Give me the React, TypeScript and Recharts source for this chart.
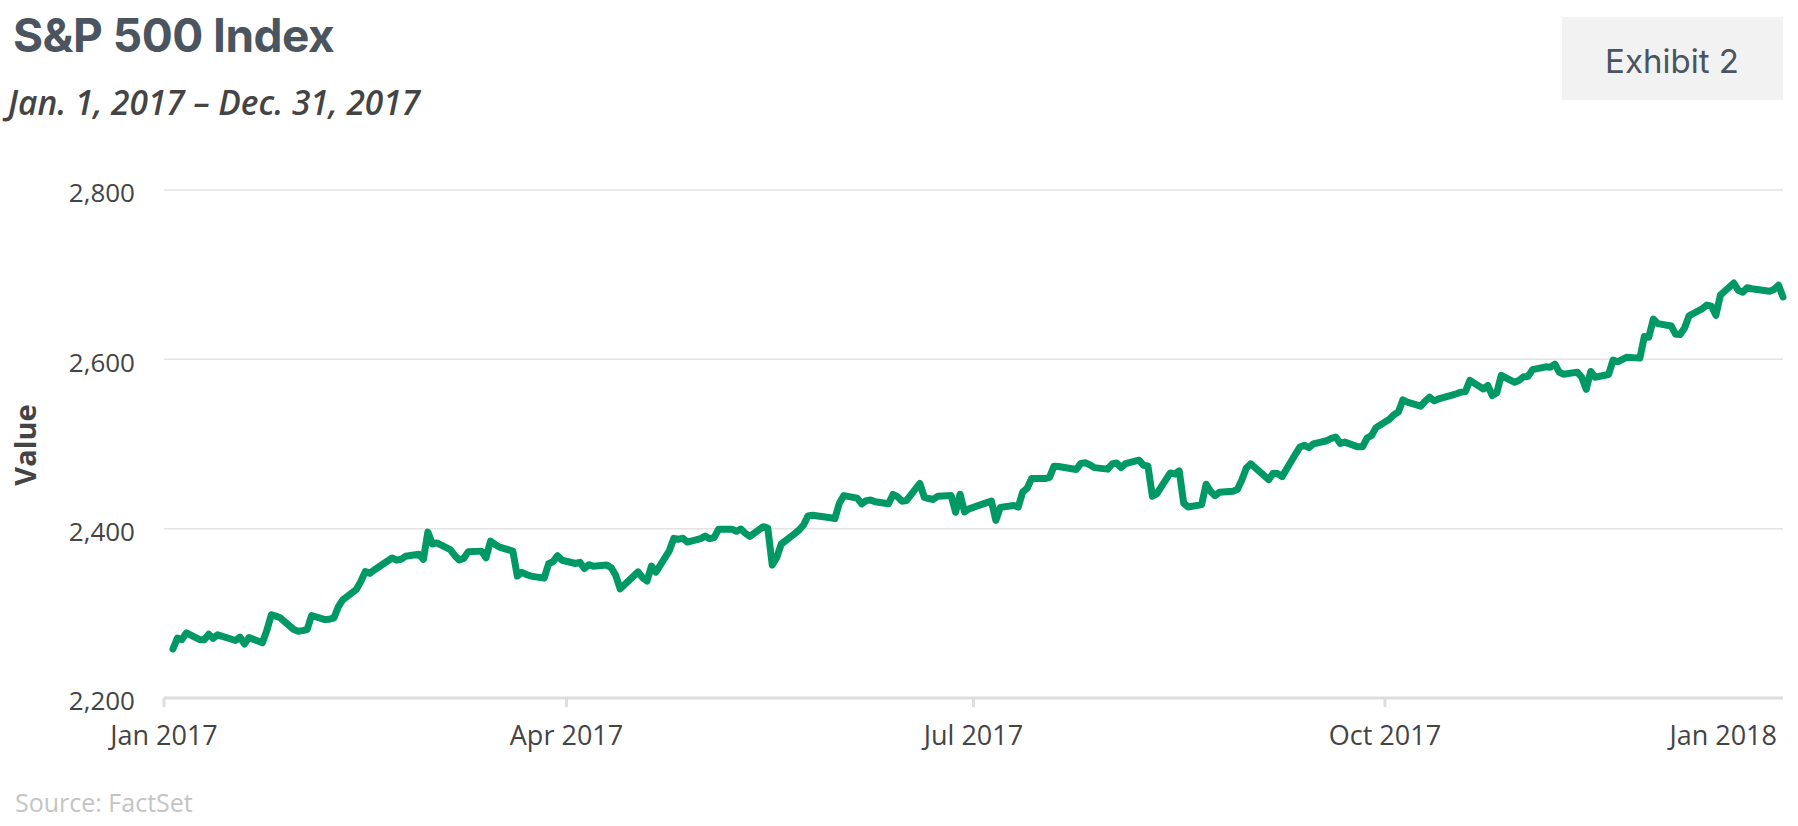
import React from 'react'
import { LineChart, Line, XAxis, YAxis, CartesianGrid } from 'recharts'

// S&P 500 daily closes, 2017 (MM-DD)
const tradingDates = [
  '01-03', '01-04', '01-05', '01-06', '01-09', '01-10', '01-11', '01-12', '01-13', '01-17',
  '01-18', '01-19', '01-20', '01-23', '01-24', '01-25', '01-26', '01-27', '01-30', '01-31',
  '02-01', '02-02', '02-03', '02-06', '02-07', '02-08', '02-09', '02-10', '02-13', '02-14',
  '02-15', '02-16', '02-17', '02-21', '02-22', '02-23', '02-24', '02-27', '02-28',
  '03-01', '03-02', '03-03', '03-06', '03-07', '03-08', '03-09', '03-10', '03-13', '03-14',
  '03-15', '03-16', '03-17', '03-20', '03-21', '03-22', '03-23', '03-24', '03-27', '03-28',
  '03-29', '03-30', '03-31',
  '04-03', '04-04', '04-05', '04-06', '04-07', '04-10', '04-11', '04-12', '04-13', '04-17',
  '04-18', '04-19', '04-20', '04-21', '04-24', '04-25', '04-26', '04-27', '04-28',
  '05-01', '05-02', '05-03', '05-04', '05-05', '05-08', '05-09', '05-10', '05-11', '05-12',
  '05-15', '05-16', '05-17', '05-18', '05-19', '05-22', '05-23', '05-24', '05-25', '05-26',
  '05-30', '05-31',
  '06-01', '06-02', '06-05', '06-06', '06-07', '06-08', '06-09', '06-12', '06-13', '06-14',
  '06-15', '06-16', '06-19', '06-20', '06-21', '06-22', '06-23', '06-26', '06-27', '06-28',
  '06-29', '06-30',
  '07-03', '07-05', '07-06', '07-07', '07-10', '07-11', '07-12', '07-13', '07-14', '07-17',
  '07-18', '07-19', '07-20', '07-21', '07-24', '07-25', '07-26', '07-27', '07-28', '07-31',
  '08-01', '08-02', '08-03', '08-04', '08-07', '08-08', '08-09', '08-10', '08-11', '08-14',
  '08-15', '08-16', '08-17', '08-18', '08-21', '08-22', '08-23', '08-24', '08-25', '08-28',
  '08-29', '08-30', '08-31',
  '09-01', '09-05', '09-06', '09-07', '09-08', '09-11', '09-12', '09-13', '09-14', '09-15',
  '09-18', '09-19', '09-20', '09-21', '09-22', '09-25', '09-26', '09-27', '09-28', '09-29',
  '10-02', '10-03', '10-04', '10-05', '10-06', '10-09', '10-10', '10-11', '10-12', '10-13',
  '10-16', '10-17', '10-18', '10-19', '10-20', '10-23', '10-24', '10-25', '10-26', '10-27',
  '10-30', '10-31',
  '11-01', '11-02', '11-03', '11-06', '11-07', '11-08', '11-09', '11-10', '11-13', '11-14',
  '11-15', '11-16', '11-17', '11-20', '11-21', '11-22', '11-24', '11-27', '11-28', '11-29',
  '11-30',
  '12-01', '12-04', '12-05', '12-06', '12-07', '12-08', '12-11', '12-12', '12-13', '12-14',
  '12-15', '12-18', '12-19', '12-20', '12-21', '12-22', '12-26', '12-27', '12-28', '12-29',
]

const closes = [
  2257.83, 2270.75, 2269.0, 2276.98, 2268.9, 2268.9, 2275.32, 2270.44, 2274.64, 2267.89,
  2271.89, 2263.69, 2271.31, 2265.2, 2280.07, 2298.37, 2296.68, 2294.69, 2280.9, 2278.87,
  2279.55, 2280.85, 2297.42, 2292.56, 2293.08, 2294.67, 2307.87, 2316.1, 2328.25, 2337.58,
  2349.25, 2347.22, 2351.16, 2365.38, 2362.82, 2363.81, 2367.34, 2369.75, 2363.64,
  2395.96, 2381.92, 2383.12, 2375.31, 2368.39, 2362.98, 2364.87, 2372.6, 2373.47, 2365.45,
  2385.26, 2381.38, 2378.25, 2373.47, 2344.02, 2348.45, 2345.96, 2343.98, 2341.59, 2358.57,
  2361.13, 2368.06, 2362.72,
  2358.84, 2360.16, 2352.95, 2357.49, 2355.54, 2357.16, 2353.78, 2344.93, 2328.95, 2349.01,
  2342.19, 2338.17, 2355.84, 2348.69, 2374.15, 2388.61, 2387.45, 2388.77, 2384.2,
  2388.33, 2391.17, 2388.13, 2389.52, 2399.29, 2399.38, 2396.92, 2399.63, 2394.44, 2390.9,
  2402.32, 2400.67, 2357.03, 2365.72, 2381.73, 2394.02, 2398.42, 2404.39, 2415.07, 2415.82,
  2412.91, 2411.8,
  2430.06, 2439.07, 2436.1, 2429.33, 2433.14, 2433.79, 2431.77, 2429.39, 2440.35, 2437.92,
  2432.46, 2433.15, 2453.46, 2437.03, 2435.61, 2434.5, 2438.3, 2439.07, 2419.38, 2440.69,
  2419.7, 2423.41,
  2429.01, 2432.54, 2409.75, 2425.18, 2427.43, 2425.53, 2443.25, 2447.83, 2459.27, 2459.14,
  2460.61, 2473.83, 2473.45, 2472.54, 2469.91, 2477.13, 2477.83, 2475.42, 2472.1, 2470.3,
  2476.35, 2477.57, 2472.16, 2476.83, 2480.91, 2474.92, 2474.02, 2438.21, 2441.32, 2465.84,
  2464.61, 2468.11, 2430.01, 2425.55, 2428.37, 2452.51, 2444.04, 2438.97, 2443.05, 2444.24,
  2446.3, 2457.59, 2471.65,
  2476.55, 2457.85, 2465.54, 2465.1, 2461.43, 2488.11, 2496.48, 2498.37, 2495.62, 2500.23,
  2503.87, 2506.65, 2508.24, 2500.6, 2502.22, 2496.66, 2496.84, 2507.04, 2510.06, 2519.36,
  2529.12, 2534.58, 2537.74, 2552.07, 2549.33, 2544.73, 2550.64, 2555.24, 2550.93, 2553.17,
  2557.64, 2559.36, 2561.26, 2562.1, 2575.21, 2564.98, 2569.13, 2557.15, 2560.4, 2581.07,
  2572.83, 2575.26,
  2579.36, 2579.85, 2587.84, 2591.13, 2590.64, 2594.38, 2584.62, 2582.3, 2584.84, 2578.87,
  2564.62, 2585.64, 2578.85, 2582.14, 2599.03, 2597.08, 2602.42, 2601.42, 2627.04, 2626.07,
  2647.58,
  2642.22, 2639.44, 2629.57, 2629.27, 2636.98, 2651.5, 2659.99, 2664.11, 2662.85, 2652.01,
  2675.81, 2690.16, 2681.47, 2679.25, 2684.57, 2683.34, 2680.5, 2682.62, 2687.54, 2673.61,
]

const xTickDates = ['2017-01-01', '2017-04-01', '2017-07-01', '2017-10-01', '2018-01-01']
const xTickLabels = ['Jan 2017', 'Apr 2017', 'Jul 2017', 'Oct 2017', 'Jan 2018']
const yTicks = [2200, 2400, 2600, 2800]

const DAY = 86400000
const T0 = Date.UTC(2017, 0, 1)
const dayOf = (iso: string) => (Date.parse(iso + 'T00:00:00Z') - T0) / DAY

const data = tradingDates.map((d, i) => ({ day: dayOf('2017-' + d), value: closes[i] }))
const xTicks = xTickDates.map(dayOf)

const W = 1798
const H = 826
const PLOT_LEFT = 164
const PLOT_RIGHT = 1783
const PLOT_BOTTOM = 698
const GREEN = '#009966'
const TEXT = '#444'

const XTick = (props: any) => {
  const { x, y, payload } = props
  const label = xTickLabels[xTicks.indexOf(payload.value)]
  const inside = x <= PLOT_RIGHT + 1
  return (
    <g>
      {inside && <line x1={x} x2={x} y1={y} y2={y + 9} stroke="#dddddd" strokeWidth={3} />}
      <text
        x={inside ? x : PLOT_RIGHT - 6}
        y={y + 47}
        textAnchor={inside ? 'middle' : 'end'}
        fill={TEXT}
        fontSize={27}
        fontFamily="'Open Sans', sans-serif"
      >
        {label}
      </text>
    </g>
  )
}

const YTitle = () => (
  <text
    x={36}
    y={445}
    transform="rotate(-90, 36, 445)"
    textAnchor="middle"
    fill={TEXT}
    fontSize={29}
    fontWeight={700}
    fontFamily="'Open Sans', sans-serif"
  >
    Value
  </text>
)

export default function App() {
  return (
    <div style={{ position: 'absolute', left: 0, top: 0, width: W, height: H, background: '#fff' }}>
      <LineChart width={W} height={H} data={data} margin={{ top: 190, right: W - PLOT_RIGHT, bottom: 0, left: 0 }}>
        <CartesianGrid horizontal vertical={false} stroke="#e3e3e3" strokeWidth={1.5} />
        <XAxis
          dataKey="day"
          type="number"
          domain={[0, 362]}
          ticks={xTicks}
          interval={0}
          height={H - PLOT_BOTTOM}
          axisLine={{ stroke: '#dddddd', strokeWidth: 3 }}
          tickLine={false}
          tickSize={0}
          tickMargin={0}
          tick={<XTick />}
        />
        <YAxis
          type="number"
          domain={[2200, 2800]}
          ticks={yTicks}
          width={PLOT_LEFT}
          axisLine={false}
          tickLine={false}
          tickSize={0}
          tickMargin={29}
          tickFormatter={(v: number) => v.toLocaleString('en-US')}
          tick={{ fill: TEXT, fontSize: 26, fontFamily: "'Open Sans', sans-serif", dy: 3 }}
          label={{ content: <YTitle /> }}
        />
        <Line
          type="linear"
          dataKey="value"
          stroke={GREEN}
          strokeWidth={7}
          strokeLinejoin="round"
          strokeLinecap="round"
          dot={false}
          activeDot={false}
          isAnimationActive={false}
        />
      </LineChart>
      <svg width={W} height={H} style={{ position: 'absolute', left: 0, top: 0, pointerEvents: 'none' }}>
        <text x={13} y={52} fill="#4a5560" fontSize={46} fontWeight={700} fontFamily="Inter, sans-serif" letterSpacing={-0.5}>
          S&amp;P 500 Index
        </text>
        <text x={8} y={115} fill={TEXT} fontSize={33.5} fontWeight={600} fontStyle="italic" fontFamily="'Open Sans', sans-serif">
          Jan. 1, 2017 – Dec. 31, 2017
        </text>
        <rect x={1562} y={17} width={221} height={83} fill="#f2f2f2" />
        <text x={1672} y={73} textAnchor="middle" fill="#4a5560" fontSize={33} fontFamily="Inter, sans-serif">
          Exhibit 2
        </text>
        <text x={15} y={812} fill="#c4c4c4" fontSize={25} fontFamily="'Open Sans', sans-serif">
          Source: FactSet
        </text>
      </svg>
    </div>
  )
}
